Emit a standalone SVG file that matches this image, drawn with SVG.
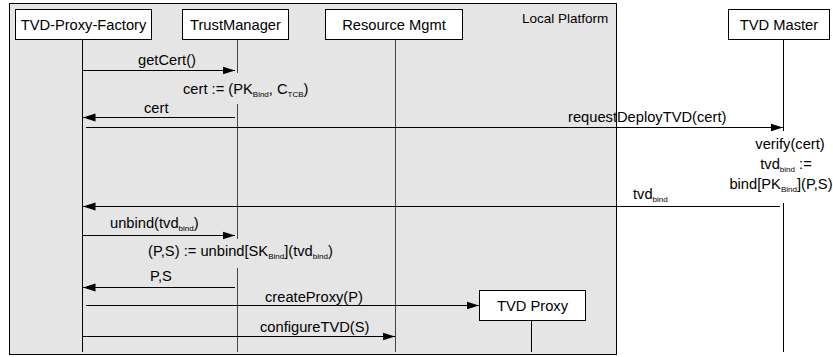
<svg xmlns="http://www.w3.org/2000/svg" width="833" height="357" viewBox="0 0 833 357">
<defs>
<style>
text{font-family:"Liberation Sans",Arial,sans-serif;font-size:14.7px;fill:#000}
.node rect{fill:#fff;stroke:#000;stroke-width:1}
.life{stroke:#000;stroke-width:1;fill:none}
.life.g{stroke:#444}
.msg{stroke:#000;stroke-width:1;fill:none}
.sub{font-size:8px}
.mid{text-anchor:middle}
</style>
<marker id="ah" markerWidth="13" markerHeight="9" refX="12.5" refY="4.5" orient="auto" markerUnits="userSpaceOnUse">
<path d="M0,0.5 L12.5,4.5 L0,8.5 Z" fill="#000"/>
</marker>
</defs>
<rect x="0" y="0" width="833" height="357" fill="#fff"/>
<g id="local-platform">
<rect x="9.5" y="3.5" width="607" height="351" fill="#e5e5e5" stroke="none"/>
<text x="522" y="23" style="font-size:13.5px">Local Platform</text>
</g>
<g id="lifelines">
<line class="life" x1="82.5" y1="40" x2="82.5" y2="352"/>
<path class="life g" d="M237.5,40 V73 M237.5,104 V239 M237.5,268 V352"/>
<line class="life g" x1="395.5" y1="40" x2="395.5" y2="352"/>
<line class="life" x1="531.5" y1="321" x2="531.5" y2="352"/>
<path class="life" d="M783.5,40 V131 M783.5,203 V352"/>
</g>
<g id="connectors">
<line class="msg" x1="82.5" y1="70.5" x2="235" y2="70.5" marker-end="url(#ah)"/>
<line class="msg" x1="235" y1="117.5" x2="83" y2="117.5" marker-end="url(#ah)"/>
<line class="msg" x1="86" y1="127.5" x2="783" y2="127.5" marker-end="url(#ah)"/>
<line class="msg" x1="780" y1="206.5" x2="83" y2="206.5" marker-end="url(#ah)"/>
<line class="msg" x1="82.5" y1="235.5" x2="235" y2="235.5" marker-end="url(#ah)"/>
<line class="msg" x1="235" y1="287.5" x2="83" y2="287.5" marker-end="url(#ah)"/>
<line class="msg" x1="86" y1="305.5" x2="479" y2="305.5" marker-end="url(#ah)"/>
<line class="msg" x1="82.5" y1="336.5" x2="395" y2="336.5" marker-end="url(#ah)"/>
</g>
<g id="labels">
<text x="138" y="65">getCert()</text>
<text x="183" y="93.5">cert := (PK<tspan class="sub" dy="3">Bind</tspan><tspan dy="-3">, C</tspan><tspan class="sub" dy="3">TCB</tspan><tspan dy="-3">)</tspan></text>
<text x="144" y="113">cert</text>
<text x="568" y="122">requestDeployTVD(cert)</text>
<text class="mid" x="790" y="149">verify(cert)</text>
<text class="mid" x="786" y="169">tvd<tspan class="sub" dy="3">bind</tspan><tspan dy="-3"> :=</tspan></text>
<text class="mid" x="781" y="189">bind[PK<tspan class="sub" dy="3">Bind</tspan><tspan dy="-3">](P,S)</tspan></text>
<text x="633" y="199">tvd<tspan class="sub" dy="3">bind</tspan></text>
<text x="110" y="228">unbind(tvd<tspan class="sub" dy="3">bind</tspan><tspan dy="-3">)</tspan></text>
<text x="148" y="256">(P,S) := unbind[SK<tspan class="sub" dy="3">Bind</tspan><tspan dy="-3">](tvd</tspan><tspan class="sub" dy="3">bind</tspan><tspan dy="-3">)</tspan></text>
<text x="150" y="281">P,S</text>
<text x="265" y="301.5">createProxy(P)</text>
<text x="260" y="332">configureTVD(S)</text>
</g>
<g id="frame">
<rect x="9.5" y="3.5" width="607" height="351" fill="none" stroke="#000" stroke-width="1"/>
</g>
<g id="node-factory" class="node">
<rect x="15.5" y="9.5" width="136" height="30"/>
<text class="mid" x="83.5" y="30">TVD-Proxy-Factory</text>
</g>
<g id="node-trustmanager" class="node">
<rect x="182.5" y="9.5" width="106" height="30"/>
<text class="mid" x="235.5" y="30">TrustManager</text>
</g>
<g id="node-resource" class="node">
<rect x="325.5" y="9.5" width="137" height="30"/>
<text class="mid" x="394" y="30">Resource Mgmt</text>
</g>
<g id="node-master" class="node">
<rect x="728.5" y="9.5" width="101" height="30"/>
<text class="mid" x="779" y="30">TVD Master</text>
</g>
<g id="node-proxy" class="node">
<rect x="479.5" y="290.5" width="106" height="30"/>
<text class="mid" x="532.5" y="311">TVD Proxy</text>
</g>
</svg>
